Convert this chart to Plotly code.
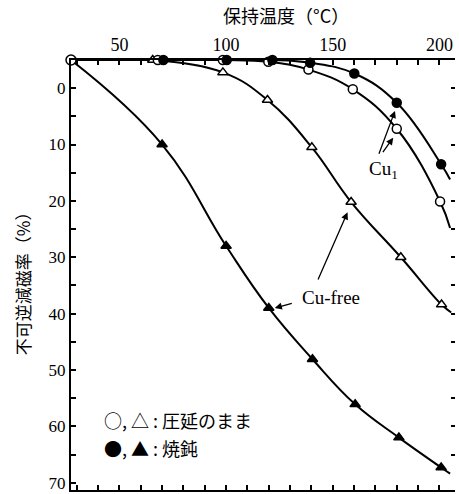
import plotly.graph_objects as go

# ---------------- data ----------------
start_T = [27.3]
start_L = [-5.0]

# Cu-free, annealed (filled triangles)
cufree_ann_T = [70.0, 100.0, 120.0, 140.5, 160.5, 181.0, 200.8]
cufree_ann_L = [10.0, 28.0, 39.0, 48.1, 56.1, 62.0, 67.3]
cufree_ann_end_T = [205.0]
cufree_ann_end_L = [68.4]

# Cu-free, as rolled (open triangles)
cufree_roll_T = [65.6, 98.5, 119.4, 140.2, 158.6, 181.9, 201.0]
cufree_roll_L = [-5.0, -2.8, 2.1, 10.5, 20.2, 30.0, 38.4]
cufree_roll_end_T = [205.5]
cufree_roll_end_L = [39.8]

# Cu1, annealed (filled circles)
cu1_ann_T = [70.6, 100.3, 121.7, 139.4, 160.1, 180.0, 200.8]
cu1_ann_L = [-5.0, -5.0, -5.0, -4.5, -2.6, 2.6, 13.5]
cu1_ann_end_T = [205.0]
cu1_ann_end_L = [16.2]

# Cu1, as rolled (open circles)
cu1_roll_T = [68.0, 98.5, 119.8, 138.6, 159.4, 180.0, 200.3]
cu1_roll_L = [-5.0, -5.0, -4.7, -3.3, 0.2, 7.2, 20.1]
cu1_roll_end_T = [205.0]
cu1_roll_end_L = [24.8]

x_ticks = [50, 100, 150, 200]
y_ticks = [0, 10, 20, 30, 40, 50, 60, 70]
y_right_ticks = [0, 5, 10, 15, 20, 25, 30, 35, 40, 45, 50, 55, 60, 65]

x_title = "保持温度（°C）"
y_title = "不可逆減磁率（%）"
legend_line1 = "○, △ : 圧延のまま"
legend_line2 = "●, ▲ : 焼鈍"

# ---------------- figure ----------------
fig = go.Figure()
BLACK = "#000000"
LW = 2

def curve(T, L):
    fig.add_trace(go.Scatter(x=T, y=L, mode="lines",
                             line=dict(color=BLACK, width=LW, shape="spline", smoothing=1.2),
                             hoverinfo="skip", showlegend=False))

curve(start_T + cufree_ann_T + cufree_ann_end_T, start_L + cufree_ann_L + cufree_ann_end_L)
curve(cufree_roll_T + cufree_roll_end_T, cufree_roll_L + cufree_roll_end_L)
curve(start_T + cu1_ann_T + cu1_ann_end_T, start_L + cu1_ann_L + cu1_ann_end_L)
curve(start_T + cu1_roll_T + cu1_roll_end_T, start_L + cu1_roll_L + cu1_roll_end_L)

def marks(T, L, symbol, fill, size):
    fig.add_trace(go.Scatter(x=T, y=L, mode="markers", cliponaxis=False,
                             marker=dict(symbol=symbol, size=size, color=fill,
                                         line=dict(color=BLACK, width=1.5)),
                             hoverinfo="skip", showlegend=False))

marks(cufree_roll_T, cufree_roll_L, "triangle-up", "white", 9)
marks(cufree_ann_T, cufree_ann_L, "triangle-up", BLACK, 9)
marks(cu1_roll_T, cu1_roll_L, "circle", "white", 9)
marks(cu1_ann_T, cu1_ann_L, "circle", BLACK, 9)
marks(start_T, start_L, "circle", "white", 10)

serif = "Liberation Serif"
jp = "Noto Sans CJK JP"
Y_RANGE = [71.3, -5]

fig.update_layout(
    width=459, height=494,
    margin=dict(l=71, r=4, t=60, b=4, autoexpand=False),
    paper_bgcolor="white", plot_bgcolor="white",
    xaxis=dict(range=[27.3, 207.3], side="top", showline=True, linewidth=LW,
               linecolor=BLACK, mirror="ticks", ticks="inside", ticklen=5,
               tickwidth=1.5, tickcolor=BLACK, tickvals=x_ticks, automargin=False,
               minor=dict(dtick=10, tick0=0, ticks="inside", ticklen=5,
                          tickwidth=1.5, tickcolor=BLACK),
               showgrid=False, zeroline=False,
               tickfont=dict(family=serif, size=18, color=BLACK)),
    yaxis=dict(range=Y_RANGE, showline=True, linewidth=LW, linecolor=BLACK,
               ticks="inside", ticklen=5, tickwidth=1.5, tickcolor=BLACK,
               tickvals=y_ticks, ticklabeloverflow="allow", automargin=False,
               minor=dict(dtick=5, tick0=0, ticks="inside", ticklen=5,
                          tickwidth=1.5, tickcolor=BLACK),
               showgrid=False, zeroline=False,
               tickfont=dict(family=serif, size=17, color=BLACK)),
    yaxis2=dict(range=Y_RANGE, overlaying="y", side="right", anchor="x",
                showline=False, ticks="inside", ticklen=4, tickwidth=1.5,
                tickcolor=BLACK, tickvals=y_right_ticks, showticklabels=False,
                showgrid=False, zeroline=False, automargin=False),
)
# dummy trace so yaxis2 is rendered
fig.add_trace(go.Scatter(x=[None], y=[None], yaxis="y2", showlegend=False))

ann = []
ann.append(dict(text=x_title, xref="paper", yref="paper", x=0.56, y=1.1047,
                xanchor="center", yanchor="middle", showarrow=False,
                font=dict(family=jp, size=18, color=BLACK)))
ann.append(dict(text=y_title, xref="paper", yref="paper", x=-0.128, y=0.49,
                xanchor="center", yanchor="middle", textangle=-90, showarrow=False,
                font=dict(family=jp, size=17, color=BLACK)))
ann.append(dict(text=legend_line1, xref="paper", yref="paper", x=0.080, y=0.163,
                xanchor="left", yanchor="middle", showarrow=False,
                font=dict(family=jp, size=18, color=BLACK)))
ann.append(dict(text=legend_line2, xref="paper", yref="paper", x=0.080, y=0.098,
                xanchor="left", yanchor="middle", showarrow=False,
                font=dict(family=jp, size=18, color=BLACK)))
ann.append(dict(text="Cu<sub>1</sub>", xref="x", yref="y", x=173.6, y=14.6,
                xanchor="center", yanchor="middle", showarrow=False,
                font=dict(family=serif, size=19, color=BLACK)))
ann.append(dict(text="Cu-free", xref="x", yref="y", x=149.2, y=37.2,
                xanchor="center", yanchor="middle", showarrow=False,
                font=dict(family=serif, size=19, color=BLACK)))

def arrow(tx, ty, hx, hy):
    ann.append(dict(text="", xref="x", yref="y", axref="x", ayref="y",
                    x=hx, y=hy, ax=tx, ay=ty, showarrow=True, arrowhead=2,
                    arrowsize=1.1, arrowwidth=1.3, arrowcolor=BLACK, standoff=2))

arrow(171.4, 11.9, 179.5, 3.7)
arrow(173.0, 11.6, 178.9, 8.5)
arrow(142.8, 34.2, 157.3, 21.7)
arrow(131.5, 38.1, 121.9, 39.1)

fig.update_layout(annotations=ann)
fig.write_html("out.html")
